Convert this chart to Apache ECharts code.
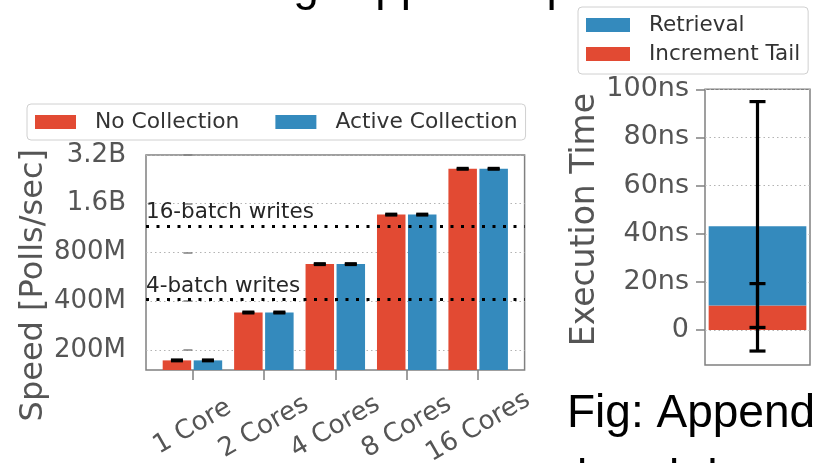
<!DOCTYPE html>
<html>
<head>
<meta charset="utf-8">
<script src="https://cdn.jsdelivr.net/npm/echarts@6/dist/echarts.min.js"></script>
<style>
  html, body { margin: 0; padding: 0; background: #fff; }
  #chart { width: 817px; height: 463px; }
</style>
</head>
<body>
<div id="chart"></div>
<script>
// ---- Append speed per core count (polls / sec) ----
const cores = ['1 Core', '2 Cores', '4 Cores', '8 Cores', '16 Cores'];
const noCollection = [172e6, 340e6, 677e6, 1.37e9, 2.63e9];
const activeCollection = [172e6, 340e6, 677e6, 1.37e9, 2.63e9];
const noCollectionErr = [1.2e6, 2.4e6, 4.8e6, 9.5e6, 18e6];
const activeCollectionErr = [1.2e6, 2.4e6, 4.8e6, 9.5e6, 18e6];
const speedRange = [150e6, 3.2e9];
const speedTicks = [200e6, 400e6, 800e6, 1.6e9, 3.2e9];
const batchLevels = [410e6, 1.17e9];
const batchLabels = ['4-batch writes', '16-batch writes'];

// ---- Append time breakdown (ns) ----
const breakdownSeries = ['Retrieval', 'Increment Tail'];
const incrementTail = [10.2];
const incrementTailErr = [9.1];
const retrieval = [32.9];
const retrievalErr = [51.8];
const timeRange = [-14.5, 100];
const timeTicks = [0, 20, 40, 60, 80, 100];

// Speed is shown on a base-2 logarithmic scale measured from the bottom of the range,
// so bars grow from the lower edge of the plot.
const SPEED_BASE = speedRange[0];
const toLog = v => Math.log2(v / SPEED_BASE);
const fromLog = u => SPEED_BASE * Math.pow(2, u);

const RED = '#E24A33';
const BLUE = '#348ABD';
const TICK_GREY = '#555555';
const SPINE = '#808080';
const FONT = 'DejaVu Sans';

function fmtSpeed(u) {
  const v = Math.round(fromLog(u) / 1e7) * 1e7;
  if (v >= 1e9) return (Math.round(v / 1e8) / 10) + 'B';
  return Math.round(v / 1e6) + 'M';
}

// bar geometry on the speed chart
const BAR_W = 28.5;
const BAR_GAP_PX = 2.5;
const PAIR_OFFSET = (BAR_W + BAR_GAP_PX) / 2;

function errorBar(offsetPx, capHalf, lineW) {
  return function (params, api) {
    const x = api.value(0);
    const lo = api.coord([x, api.value(1)]);
    const hi = api.coord([x, api.value(2)]);
    const cx = lo[0] + offsetPx;
    const style = { stroke: '#000', lineWidth: lineW };
    return {
      type: 'group',
      children: [
        { type: 'line', shape: { x1: cx, y1: lo[1], x2: cx, y2: hi[1] }, style },
        { type: 'line', shape: { x1: cx - capHalf, y1: lo[1], x2: cx + capHalf, y2: lo[1] }, style },
        { type: 'line', shape: { x1: cx - capHalf, y1: hi[1], x2: cx + capHalf, y2: hi[1] }, style }
      ]
    };
  };
}

const speedErr = (vals, errs) => vals.map((v, i) => [i, toLog(v - errs[i]), toLog(v + errs[i])]);

const total = incrementTail.map((t, i) => t + retrieval[i]);

const gridLine = { show: true, lineStyle: { color: '#b3b3b3', width: 1.2, type: [1.5, 3] } };

const option = {
  animation: false,
  backgroundColor: '#fff',
  textStyle: { fontFamily: FONT },
  legend: [
    {
      data: ['No Collection', 'Active Collection'],
      left: 27, top: 104,
      orient: 'horizontal',
      icon: 'rect',
      itemWidth: 41, itemHeight: 14,
      itemGap: 36,
      padding: [7, 8],
      borderColor: '#d0d0d0', borderWidth: 1, borderRadius: 4,
      textStyle: { fontSize: 21.8, color: '#333', fontFamily: FONT, padding: [0, 0, 0, 14] }
    },
    {
      data: breakdownSeries,
      left: 578, top: 7,
      orient: 'vertical',
      icon: 'rect',
      itemWidth: 44, itemHeight: 14,
      itemGap: 7,
      padding: [7, 8, 9, 8],
      borderColor: '#d0d0d0', borderWidth: 1, borderRadius: 4,
      textStyle: { fontSize: 21.5, color: '#333', fontFamily: FONT, padding: [0, 0, 0, 14] }
    }
  ],
  grid: [
    { left: 146, top: 155, width: 378.6, height: 215, outerBoundsMode: 'none', containLabel: false, show: true, borderColor: SPINE, borderWidth: 1.5, backgroundColor: '#fff' },
    { left: 705, top: 89.3, width: 105, height: 275.7, outerBoundsMode: 'none', containLabel: false, show: true, borderColor: SPINE, borderWidth: 1.5, backgroundColor: '#fff' }
  ],
  xAxis: [
    {
      gridIndex: 0, type: 'value', min: -0.65, max: 4.65,
      axisLine: { show: false },
      splitLine: { show: false },
      axisTick: { show: true, length: 10, customValues: cores.map((c, i) => i), lineStyle: { color: SPINE, width: 1.5 } },
      axisLabel: {
        customValues: cores.map((c, i) => i),
        formatter: v => cores[Math.round(v)],
        rotate: 30, align: 'center', verticalAlign: 'middle', margin: 57,
        fontSize: 26, color: TICK_GREY, fontFamily: FONT
      }
    },
    {
      gridIndex: 1, type: 'category', data: ['Append'],
      axisLine: { show: false }, axisTick: { show: false }, axisLabel: { show: false }, splitLine: { show: false }
    }
  ],
  yAxis: [
    {
      gridIndex: 0, type: 'value',
      min: toLog(speedRange[0]), max: toLog(speedRange[1]),
      axisLine: { show: false },
      axisTick: { show: true, length: 9, customValues: speedTicks.map(toLog), lineStyle: { color: SPINE, width: 1.5 } },
      axisLabel: { customValues: speedTicks.map(toLog), formatter: fmtSpeed, fontSize: 26, color: TICK_GREY, margin: 20, fontFamily: FONT },
      splitLine: gridLine
    },
    {
      gridIndex: 1, type: 'value', min: timeRange[0], max: timeRange[1],
      axisLine: { show: false },
      axisTick: { show: true, length: 9, customValues: timeTicks, lineStyle: { color: SPINE, width: 1.5 } },
      axisLabel: { customValues: timeTicks, formatter: v => (v === 0 ? '0' : v + 'ns'), fontSize: 27, color: TICK_GREY, margin: 16, fontFamily: FONT },
      splitLine: gridLine
    }
  ],
  series: [
    {
      name: 'No Collection', type: 'bar', xAxisIndex: 0, yAxisIndex: 0,
      data: noCollection.map((v, i) => [i, toLog(v)]),
      barWidth: BAR_W, barGap: (BAR_GAP_PX / BAR_W * 100) + '%',
      itemStyle: { color: RED },
      markLine: {
        silent: true, symbol: 'none',
        lineStyle: { color: '#000', width: 3, type: [3, 7.5] },
        label: {
          show: true, position: 'insideStartTop', distance: [0, 2],
          formatter: p => p.name, fontSize: 21.5, color: '#262626', fontFamily: FONT
        },
        data: batchLevels.map((v, i) => ({ name: batchLabels[i], yAxis: toLog(v) }))
      }
    },
    {
      name: 'Active Collection', type: 'bar', xAxisIndex: 0, yAxisIndex: 0,
      data: activeCollection.map((v, i) => [i, toLog(v)]),
      barWidth: BAR_W,
      itemStyle: { color: BLUE }
    },
    {
      type: 'custom', xAxisIndex: 0, yAxisIndex: 0, z: 5,
      renderItem: errorBar(-PAIR_OFFSET, 6, 3),
      data: speedErr(noCollection, noCollectionErr)
    },
    {
      type: 'custom', xAxisIndex: 0, yAxisIndex: 0, z: 5,
      renderItem: errorBar(PAIR_OFFSET, 6, 3),
      data: speedErr(activeCollection, activeCollectionErr)
    },
    {
      name: 'Increment Tail', type: 'bar', xAxisIndex: 1, yAxisIndex: 1, stack: 'time',
      data: incrementTail, barWidth: 97.7, itemStyle: { color: RED }
    },
    {
      name: 'Retrieval', type: 'bar', xAxisIndex: 1, yAxisIndex: 1, stack: 'time',
      data: retrieval, barWidth: 97.7, itemStyle: { color: BLUE }
    },
    {
      type: 'custom', xAxisIndex: 1, yAxisIndex: 1, z: 5,
      renderItem: errorBar(0, 8, 3.2),
      data: [
        [0, incrementTail[0] - incrementTailErr[0], incrementTail[0] + incrementTailErr[0]],
        [0, total[0] - retrievalErr[0], total[0] + retrievalErr[0]]
      ]
    }
  ],
  graphic: [
    { type: 'text', left: 18, top: 149, rotation: Math.PI / 2, style: { text: 'Speed [Polls/sec]', fontSize: 32, fill: TICK_GREY, fontFamily: FONT } },
    { type: 'text', left: 569, top: 93, rotation: Math.PI / 2, style: { text: 'Execution Time', fontSize: 33, fill: TICK_GREY, fontFamily: FONT } },
    { type: 'text', x: 255, y: -36, style: { text: 'Fig: Append Speed', fontSize: 46, fill: '#000', fontFamily: 'Liberation Sans', verticalAlign: 'top' } },
    { type: 'text', x: 567, y: 391, style: { text: 'Fig: Append', fontSize: 46, fill: '#000', fontFamily: 'Liberation Sans', verticalAlign: 'top' } },
    { type: 'text', x: 577, y: 456, style: { text: 'breakdown', fontSize: 46, fill: '#000', fontFamily: 'Liberation Sans', verticalAlign: 'top' } }
  ]
};

const chart = echarts.init(document.getElementById('chart'), null, { renderer: 'canvas' });
chart.setOption(option);
</script>
</body>
</html>
